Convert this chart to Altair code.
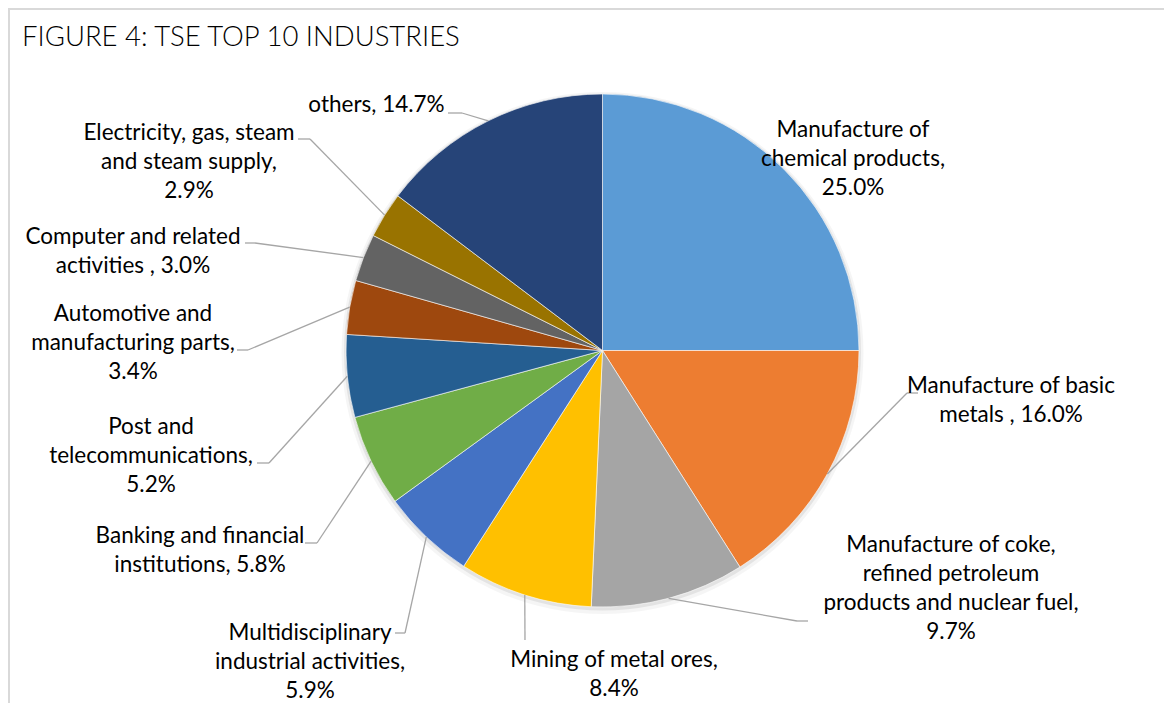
import altair as alt
import pandas as pd

# ---------------- data ----------------
categories = [
    "Manufacture of chemical products",
    "Manufacture of basic metals",
    "Manufacture of coke, refined petroleum products and nuclear fuel",
    "Mining of metal ores",
    "Multidisciplinary industrial activities",
    "Banking and financial institutions",
    "Post and telecommunications",
    "Automotive and manufacturing parts",
    "Computer and related activities",
    "Electricity, gas, steam and steam supply",
    "others",
]
shares = [25.0, 16.0, 9.7, 8.4, 5.9, 5.8, 5.2, 3.4, 3.0, 2.9, 14.7]
label_templates = [
    "Manufacture of\nchemical products,\n{v}",
    "Manufacture of basic\nmetals , {v}",
    "Manufacture of coke,\nrefined petroleum\nproducts and nuclear fuel,\n{v}",
    "Mining of metal ores,\n{v}",
    "Multidisciplinary\nindustrial activities,\n{v}",
    "Banking and financial\ninstitutions, {v}",
    "Post and\ntelecommunications,\n{v}",
    "Automotive and\nmanufacturing parts,\n{v}",
    "Computer and related\nactivities , {v}",
    "Electricity, gas, steam\nand steam supply,\n{v}",
    "others, {v}",
]
title_text = "FIGURE 4: TSE TOP 10 INDUSTRIES"

# ---------------- style / layout ----------------
colors = ["#5B9BD5", "#ED7D31", "#A5A5A5", "#FFC000", "#4472C4", "#70AD47",
          "#255E91", "#9E480E", "#636363", "#997300", "#264478"]
# label anchor = centre x, first-line y (image pixels)
label_x = [853, 1011, 951, 614, 310, 200, 151, 133, 133, 189, 376.5]
label_y = [130, 386, 545, 660, 633, 536, 427, 314, 237, 133, 105]
lead_sx = [None, 918, 808, 525, 395, 305, 257, 237, 245, 298, 448]
lead_sy = [None, 393, 621, 640, 633, 543, 463, 350, 243, 139, 113]
lead_ex = [None, 907, 797, 525, 405, 317, 269, 248, 255, 310, 462]
lead_ey = [None, 393, 621, 640, 633, 543, 463, 350, 243, 139, 113]

CX, CY, R = 602.5, 350.5, 256.5
W, H = 1156, 695
OFF = 8
FONT = "Lato"

df = pd.DataFrame({
    "idx": list(range(len(categories))),
    "category": categories,
    "share": shares,
    "label": [t.format(v=f"{s:.1f}%") for t, s in zip(label_templates, shares)],
    "lx": label_x,
    "ly": label_y,
    "sx": lead_sx,
    "sy": lead_sy,
    "bx": lead_ex,
    "by": lead_ey,
})

xs = alt.Scale(domain=[OFF, OFF + W], range=[0, W])
ys = alt.Scale(domain=[OFF, OFF + H], range=[0, H])

base = alt.Chart(df)

# soft shadow rings behind the pie
one = alt.Chart(pd.DataFrame({"k": [0]}))
shadow1 = one.mark_arc(radius=261, theta=0, theta2=6.2832, color="#000000", opacity=0.04).encode(
    x=alt.datum(CX, scale=xs, axis=None), y=alt.datum(CY + 2.5, scale=ys, axis=None))
shadow2 = one.mark_arc(radius=258.5, theta=0, theta2=6.2832, color="#000000", opacity=0.07).encode(
    x=alt.datum(CX, scale=xs, axis=None), y=alt.datum(CY + 1.5, scale=ys, axis=None))

pie = base.mark_arc(radius=R, stroke="#ffffff", strokeWidth=0.6).encode(
    theta=alt.Theta("share:Q", stack=True),
    order=alt.Order("idx:Q"),
    color=alt.Color("category:N", scale=alt.Scale(domain=categories, range=colors), legend=None),
    x=alt.datum(CX, scale=xs, axis=None),
    y=alt.datum(CY, scale=ys, axis=None),
)

leader_base = base.transform_window(
    cum="sum(share)", sort=[alt.SortField("idx")]
).transform_joinaggregate(
    total="sum(share)"
).transform_calculate(
    mid="(datum.cum - datum.share / 2) / datum.total",
).transform_calculate(
    ex=f"{CX} + {R} * sin(2 * PI * datum.mid)",
    ey=f"{CY} - {R} * cos(2 * PI * datum.mid)",
).transform_filter("isValid(datum.sx)")

lead1 = leader_base.mark_rule(color="#a6a6a6", strokeWidth=1.3).encode(
    x=alt.X("sx:Q", scale=xs, axis=None), y=alt.Y("sy:Q", scale=ys, axis=None),
    x2="bx:Q", y2="by:Q")
lead2 = leader_base.mark_rule(color="#a6a6a6", strokeWidth=1.3).encode(
    x=alt.X("bx:Q", scale=xs, axis=None), y=alt.Y("by:Q", scale=ys, axis=None),
    x2="ex:Q", y2="ey:Q")

labels = base.mark_text(align="center", baseline="middle", lineBreak="\n", lineHeight=29,
                        font=FONT, fontSize=22.5, color="#000000").encode(
    x=alt.X("lx:Q", scale=xs, axis=None),
    y=alt.Y("ly:Q", scale=ys, axis=None),
    text="label:N",
)

title = one.mark_text(align="left", baseline="alphabetic", font=FONT, fontSize=27.5,
                      fontWeight=300, color="#000000").encode(
    x=alt.datum(22, scale=xs, axis=None), y=alt.datum(46, scale=ys, axis=None),
    text=alt.value(title_text))

border_top = one.mark_rule(color="#d9d9d9", strokeWidth=2).encode(
    x=alt.datum(OFF, scale=xs, axis=None), x2=alt.datum(OFF + W),
    y=alt.datum(OFF + 1, scale=ys, axis=None))
border_left = one.mark_rule(color="#d9d9d9", strokeWidth=2).encode(
    x=alt.datum(OFF + 1, scale=xs, axis=None),
    y=alt.datum(OFF, scale=ys, axis=None), y2=alt.datum(OFF + H))

chart = alt.layer(
    border_top, border_left, shadow1, shadow2, pie, lead1, lead2, labels, title
).properties(
    width=W, height=H, padding=0, autosize=alt.AutoSizeParams(type="none"),
    background="#ffffff",
).configure_view(strokeWidth=0)

chart.save("out.html", embed_options={"renderer": "svg", "actions": False})
